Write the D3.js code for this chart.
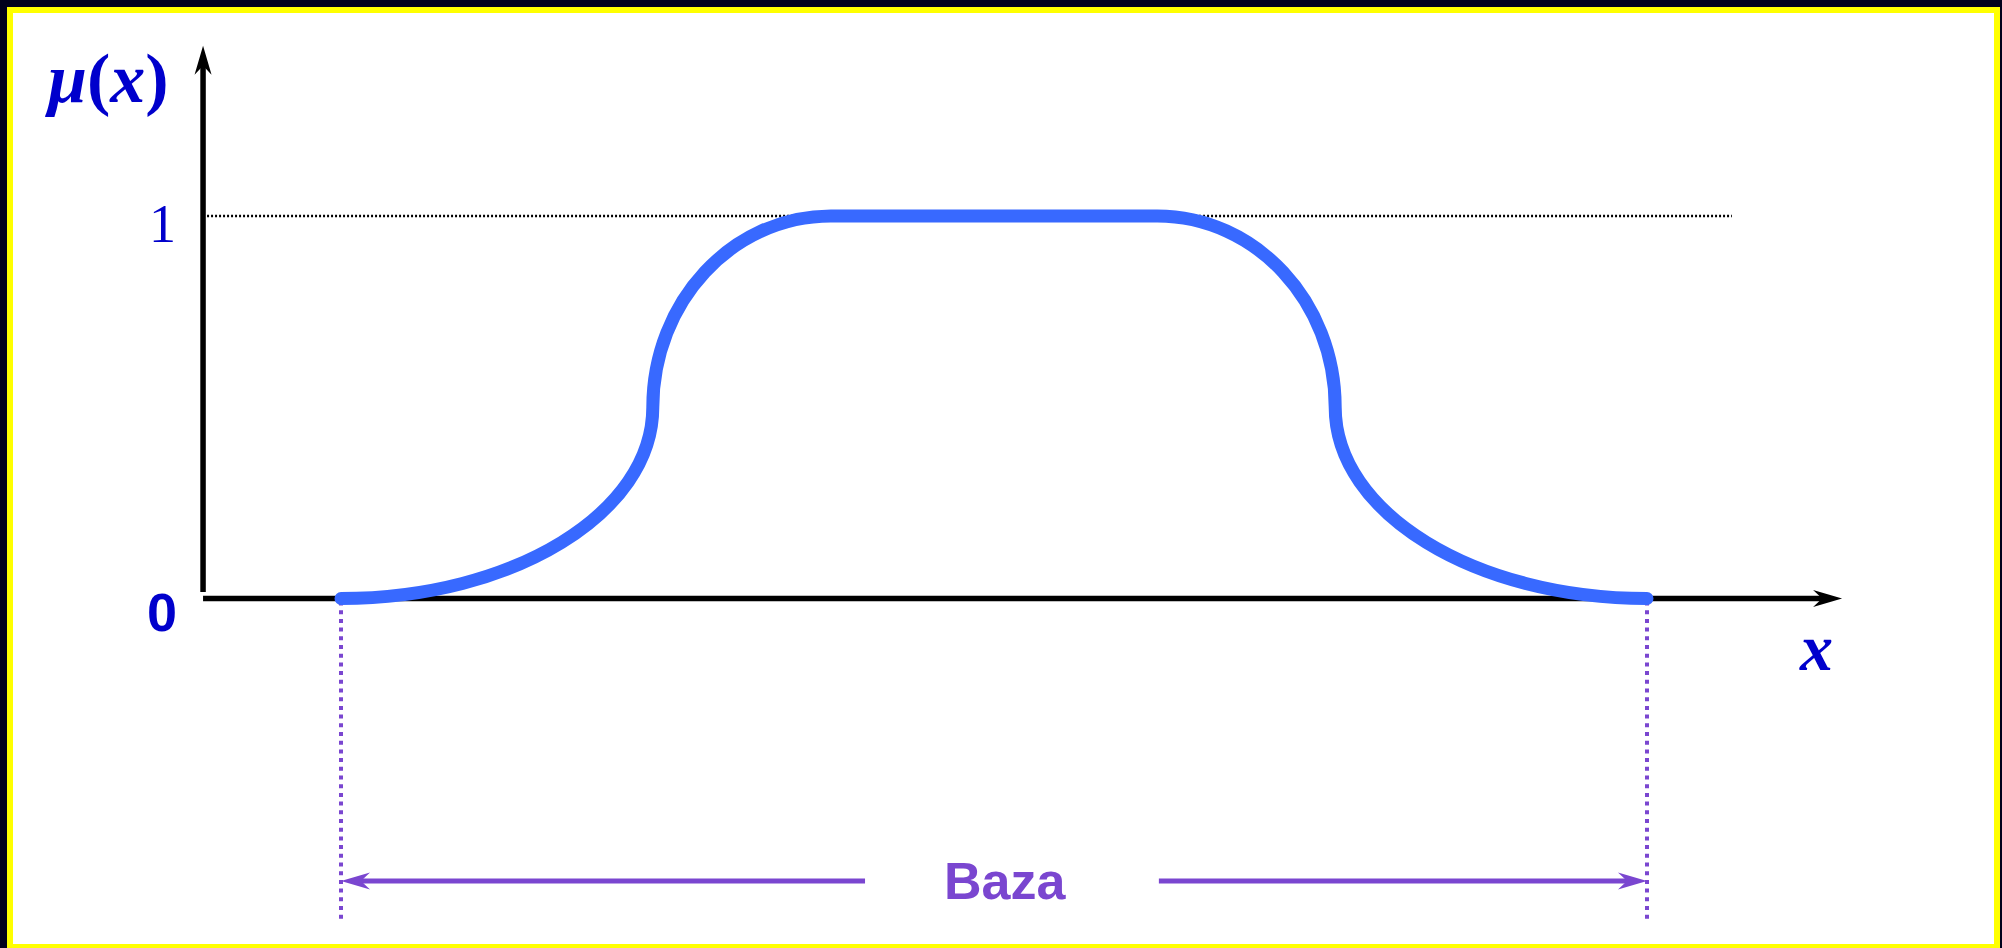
<!DOCTYPE html>
<html>
<head>
<meta charset="utf-8">
<title>Funkcja przynaleznosci - baza</title>
<script src="https://d3js.org/d3.v7.min.js"></script>
<style>
body { margin: 0; background: #00001c; overflow: hidden; }
svg { display: block; }
</style>
</head>
<body>
<div id="chart"></div>
<script>
// membership function breakpoints (x in data units, mu in [0,1])
var xPoints = [0, 3.82, 6, 10, 12.18, 16];
var muPoints = [0, 0.5, 1, 1, 0.5, 0];
// tangent direction at each breakpoint: h = horizontal, v = vertical
var tangents = ["h", "v", "h", "h", "v", "h"];

var yTickValues = [0, 1];
var yTickLabels = ["0", "1"];
var baseLabel = "Baza";
var yAxisLabel = ["\u03bc", "(", "x", ")"];
var xAxisLabel = "x";

var W = 2002, H = 948;

var svg = d3.select("#chart")
  .append("svg")
  .attr("width", W)
  .attr("height", H);

// frame: dark page, yellow border, white panel
svg.append("rect").attr("x", 0).attr("y", 0).attr("width", W).attr("height", H).attr("fill", "#00001c");
svg.append("rect").attr("x", 7).attr("y", 7).attr("width", 1993).attr("height", 950).attr("fill", "#ffff00");
svg.append("rect").attr("x", 13).attr("y", 13).attr("width", 1981).attr("height", 931).attr("fill", "#ffffff");

var x = d3.scaleLinear().domain([0, 16]).range([341, 1647]);
var y = d3.scaleLinear().domain([0, 1]).range([598.5, 216]);

var xAxisMin = -1.69, xAxisMax = 18.39, yAxisMax = 1.445;
var g = svg.append("g");

// dotted guide at mu = 1
g.append("line")
  .attr("x1", x(xAxisMin) + 4).attr("x2", x(17.04))
  .attr("y1", y(1)).attr("y2", y(1))
  .attr("stroke", "#000").attr("stroke-width", 2.5)
  .attr("stroke-dasharray", "2,2");

// y axis
g.append("line")
  .attr("x1", x(xAxisMin)).attr("x2", x(xAxisMin))
  .attr("y1", y(0) - 6.5).attr("y2", y(yAxisMax) + 16)
  .attr("stroke", "#000").attr("stroke-width", 5.5);

// x axis
g.append("line")
  .attr("x1", x(xAxisMin)).attr("x2", x(xAxisMax) - 18)
  .attr("y1", y(0)).attr("y2", y(0))
  .attr("stroke", "#000").attr("stroke-width", 5.5);

var arrowHead = "M0,0L-29,-8.5L-20,0L-29,8.5Z";

g.append("path")
  .attr("d", arrowHead)
  .attr("fill", "#000")
  .attr("transform", "translate(" + x(xAxisMax) + "," + y(0) + ")");

g.append("path")
  .attr("d", arrowHead)
  .attr("fill", "#000")
  .attr("transform", "translate(" + x(xAxisMin) + "," + y(yAxisMax) + ")rotate(-90)");

// tick labels
g.append("text")
  .attr("x", x(xAxisMin) - 27).attr("y", y(1) + 26)
  .attr("text-anchor", "end")
  .attr("font-family", "'Liberation Serif', 'Times New Roman', serif")
  .attr("font-size", 54)
  .attr("fill", "#0000cc")
  .text(yTickLabels[yTickValues.indexOf(1)]);

g.append("text")
  .attr("x", x(xAxisMin) - 26).attr("y", y(0) + 32)
  .attr("text-anchor", "end")
  .attr("font-family", "'Liberation Sans', Arial, sans-serif")
  .attr("font-weight", "bold")
  .attr("font-size", 54)
  .attr("fill", "#0000cc")
  .text(yTickLabels[yTickValues.indexOf(0)]);

// axis labels
var muLabel = g.append("text")
  .attr("x", 48).attr("y", 102)
  .attr("font-family", "'Liberation Serif', 'Times New Roman', serif")
  .attr("font-weight", "bold")
  .attr("font-size", 70)
  .attr("fill", "#0000cc");
muLabel.selectAll("tspan")
  .data(yAxisLabel)
  .enter().append("tspan")
  .attr("font-style", function(d) { return (d === "(" || d === ")") ? "normal" : "italic"; })
  .text(function(d) { return d; });

g.append("text")
  .attr("x", 1800).attr("y", 670)
  .attr("font-family", "'Liberation Serif', 'Times New Roman', serif")
  .attr("font-weight", "bold")
  .attr("font-style", "italic")
  .attr("font-size", 66)
  .attr("fill", "#0000cc")
  .text(xAxisLabel);

// base annotation
var purple = "#7a46d0";
var baseY = 881;

g.selectAll(".support")
  .data([xPoints[0], xPoints[xPoints.length - 1]])
  .enter().append("line")
  .attr("class", "support")
  .attr("x1", function(d) { return x(d); }).attr("x2", function(d) { return x(d); })
  .attr("y1", y(0) + 3).attr("y2", 923)
  .attr("stroke", purple).attr("stroke-width", 4)
  .attr("stroke-dasharray", "4,4.7");

g.append("line")
  .attr("x1", x(xPoints[0]) + 20).attr("x2", x(6.42))
  .attr("y1", baseY).attr("y2", baseY)
  .attr("stroke", purple).attr("stroke-width", 5);

g.append("line")
  .attr("x1", x(10.02)).attr("x2", x(xPoints[xPoints.length - 1]) - 20)
  .attr("y1", baseY).attr("y2", baseY)
  .attr("stroke", purple).attr("stroke-width", 5);

g.append("path")
  .attr("d", arrowHead)
  .attr("fill", purple)
  .attr("transform", "translate(" + x(xPoints[0]) + "," + baseY + ")rotate(180)");

g.append("path")
  .attr("d", arrowHead)
  .attr("fill", purple)
  .attr("transform", "translate(" + x(xPoints[xPoints.length - 1]) + "," + baseY + ")");

g.append("text")
  .attr("x", x(8.13)).attr("y", 899)
  .attr("text-anchor", "middle")
  .attr("font-family", "'Liberation Sans', Arial, sans-serif")
  .attr("font-weight", "bold")
  .attr("font-size", 52)
  .attr("fill", purple)
  .text(baseLabel);

// membership curve: quarter-ellipse pieces between breakpoints
var k = 0.5523;
var p = d3.path();
p.moveTo(x(xPoints[0]), y(muPoints[0]));
for (var i = 1; i < xPoints.length; i++) {
  var x0 = x(xPoints[i - 1]), y0 = y(muPoints[i - 1]);
  var x1 = x(xPoints[i]), y1 = y(muPoints[i]);
  var c1 = tangents[i - 1] === "h" ? [x0 + k * (x1 - x0), y0] : [x0, y0 + k * (y1 - y0)];
  var c2 = tangents[i] === "h" ? [x1 - k * (x1 - x0), y1] : [x1, y1 - k * (y1 - y0)];
  p.bezierCurveTo(c1[0], c1[1], c2[0], c2[1], x1, y1);
}

g.append("path")
  .attr("d", p.toString())
  .attr("fill", "none")
  .attr("stroke", "#3869ff")
  .attr("stroke-width", 13)
  .attr("stroke-linecap", "round")
  .attr("stroke-linejoin", "round");
</script>
</body>
</html>
